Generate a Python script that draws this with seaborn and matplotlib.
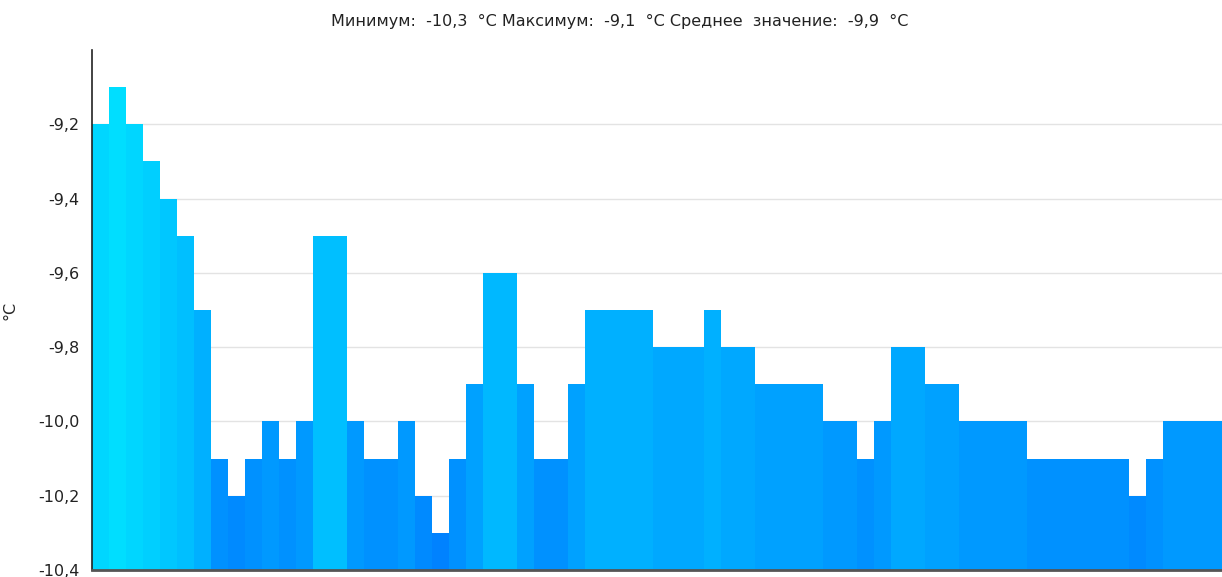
import numpy as np
import pandas as pd
import seaborn as sns
import matplotlib.pyplot as plt
from matplotlib.ticker import FuncFormatter

# temperature per time step, degrees C
temps = [-9.2, -9.1, -9.2, -9.3, -9.4, -9.5, -9.7, -10.1, -10.2, -10.1,
         -10.0, -10.1, -10.0, -9.5, -9.5, -10.0, -10.1, -10.1, -10.0, -10.2,
         -10.3, -10.1, -9.9, -9.6, -9.6, -9.9, -10.1, -10.1, -9.9, -9.7,
         -9.7, -9.7, -9.7, -9.8, -9.8, -9.8, -9.7, -9.8, -9.8, -9.9,
         -9.9, -9.9, -9.9, -10.0, -10.0, -10.1, -10.0, -9.8, -9.8, -9.9,
         -9.9, -10.0, -10.0, -10.0, -10.0, -10.1, -10.1, -10.1, -10.1, -10.1,
         -10.1, -10.2, -10.1, -10.0, -10.0, -10.0, -10.0]
ticks = [-10.4, -10.2, -10.0, -9.8, -9.6, -9.4, -9.2]
base = -10.4
title = "Минимум:  -10,3  °C Максимум:  -9,1  °C Среднее  значение:  -9,9  °C"

sns.set_theme(style="white")
plt.rcParams['font.family'] = ['DejaVu Sans']

df = pd.DataFrame({"step": range(len(temps)), "temp": temps})
df["height"] = df["temp"] - base

# colour goes from blue (cold) to cyan (warm)
lo, hi = -10.3, -9.1
t = (df["temp"] - lo) / (hi - lo)
colors = [(0, (0x82 + k * (0xDE - 0x82)) / 255, 1.0) for k in t]

fig = plt.figure(figsize=(12.22, 5.77), dpi=100)
ax = fig.add_axes([92 / 1222, 7 / 577, 1 - 92 / 1222, 520 / 577])
sns.barplot(data=df, x="step", y="height", hue="step", palette=colors,
            saturation=1, legend=False, width=1.0, linewidth=0, ax=ax, zorder=2)

ax.set_xlim(-0.5, 65.97)
ax.set_ylim(0, 1.4)
ax.set_yticks([v - base for v in ticks])
ax.yaxis.set_major_formatter(FuncFormatter(
    lambda v, p: f"{v + base:.1f}".replace(".", ",")))
ax.grid(axis="y", color="#e3e3e3", linewidth=1, zorder=0)
ax.set_axisbelow(True)
ax.set_xticks([])
ax.set_xlabel("")
ax.set_ylabel("°C", fontsize=11.5)
ax.yaxis.set_label_coords(-0.0655, 0.5)
ax.tick_params(axis="y", length=0, labelsize=11.5, pad=9, colors="#222222")
for s in ["top", "right"]:
    ax.spines[s].set_visible(False)
ax.spines["left"].set_color("#222222")
ax.spines["left"].set_linewidth(1.2)
ax.spines["bottom"].set_color("#555555")
ax.spines["bottom"].set_linewidth(2)

fig.text(0.507, 0.962, title, ha="center", va="center", fontsize=11.5, color="#222222")

fig.savefig("out.png", dpi=100)
